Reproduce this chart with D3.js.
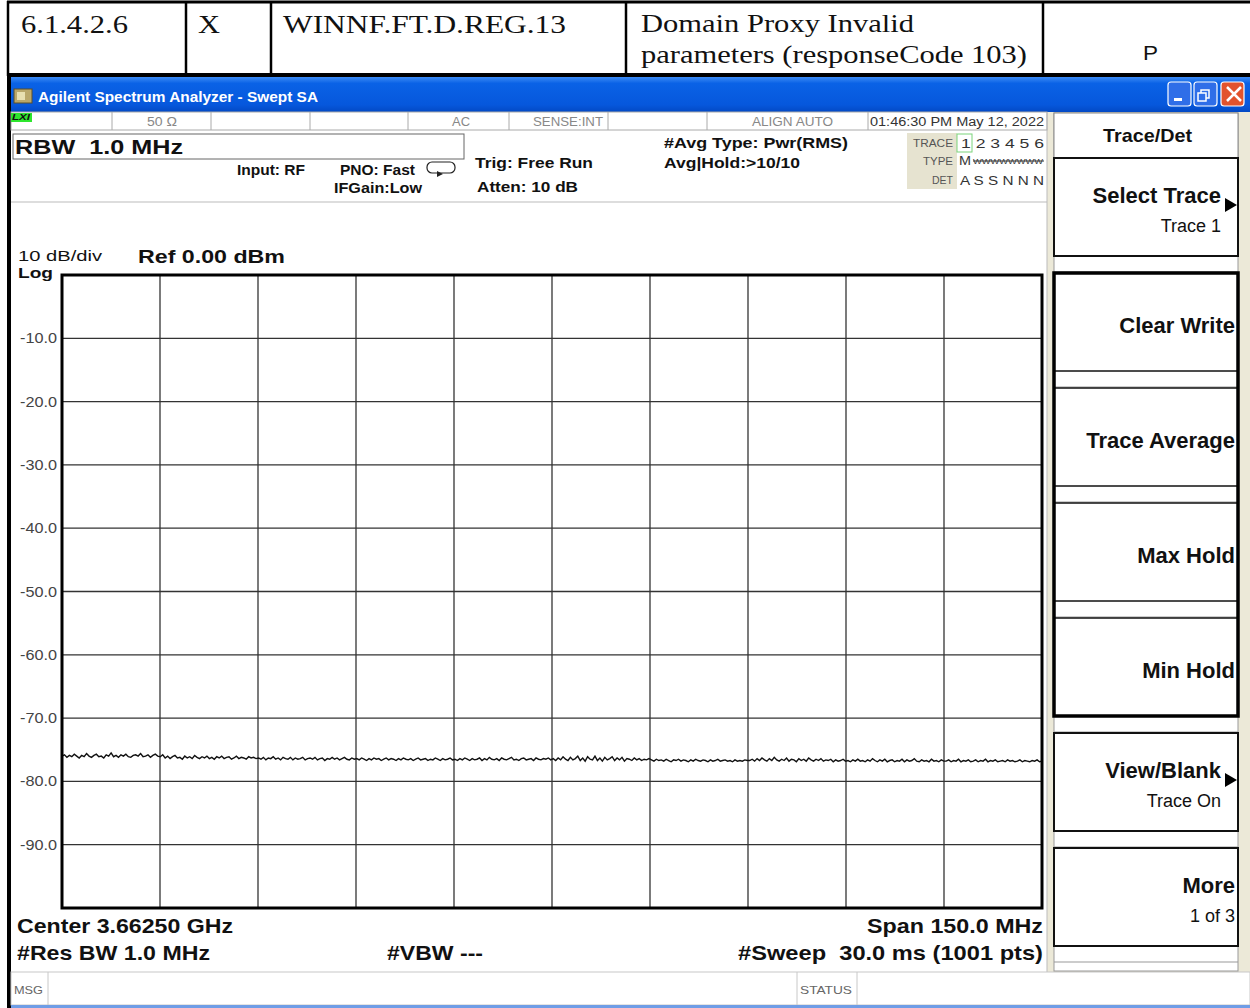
<!DOCTYPE html>
<html>
<head>
<meta charset="utf-8">
<script src="https://cdn.jsdelivr.net/npm/d3@7"></script>
<style>
  body { margin: 0; background: #fff; }
  svg { display: block; font-family: "Liberation Sans", Arial, sans-serif; }
  text { white-space: pre; }
</style>
</head>
<body>
<script>
(function () {

    //table row above the screenshot
    var tableCells = ["6.1.4.2.6", "X", "WINNF.FT.D.REG.13"];
    var tableTitle = ["Domain Proxy Invalid", "parameters (responseCode 103)"];
    var tableResult = "P";

    //y axis: 10 dB/div, ref 0 dBm
    var yTickValues = [-10, -20, -30, -40, -50, -60, -70, -80, -90];
    var yTickLabels = ["-10.0", "-20.0", "-30.0", "-40.0", "-50.0", "-60.0", "-70.0", "-80.0", "-90.0"];
    var xDivisions = [0, 1, 2, 3, 4, 5, 6, 7, 8, 9, 10];

    //trace 1 (dBm), left to right (one row per division)
    var traceDbm = [
        -76.0, -75.8, -76.2, -75.9, -76.1, -75.7, -76.0, -76.3, -75.9, -76.1, -75.6, -76.0, -76.2, -75.9, -75.7, -76.1, -76.0, -76.3, -75.8, -76.0, -75.5, -76.1, -75.9, -76.2, -75.8, -76.0, -75.7, -76.1, -76.2, -75.9, -75.8, -76.0, -75.6, -76.1, -76.0, -75.8, -76.2, -75.9, -75.7, -76.0,
        -76.1, -75.8, -76.3, -76.0, -76.4, -76.1, -75.9, -76.3, -76.2, -76.5, -76.0, -76.3, -76.1, -76.4, -75.9, -76.2, -76.4, -76.1, -76.3, -76.0, -76.4, -76.2, -76.5, -76.1, -76.3, -76.0, -76.4, -76.2, -76.1, -76.5, -76.3, -76.0, -76.4, -76.2, -76.3, -76.5, -76.1, -76.3, -76.2, -76.4,
        -76.3, -76.5, -76.2, -76.6, -76.3, -76.4, -76.1, -76.5, -76.3, -76.6, -76.2, -76.4, -76.5, -76.2, -76.6, -76.3, -76.5, -76.4, -76.2, -76.6, -76.4, -76.3, -76.5, -76.2, -76.6, -76.4, -76.3, -76.7, -76.4, -76.5, -76.2, -76.5, -76.3, -76.6, -76.4, -76.2, -76.5, -76.6, -76.3, -76.5,
        -76.4, -76.6, -76.3, -76.5, -76.7, -76.4, -76.6, -76.3, -76.5, -76.4, -76.7, -76.5, -76.3, -76.6, -76.4, -76.5, -76.7, -76.4, -76.6, -76.3, -76.5, -76.6, -76.4, -76.7, -76.5, -76.3, -76.6, -76.5, -76.4, -76.7, -76.5, -76.6, -76.3, -76.5, -76.7, -76.4, -76.6, -76.5, -76.3, -76.6,
        -76.5, -76.7, -76.4, -76.6, -76.3, -76.5, -76.7, -76.4, -76.6, -76.5, -76.3, -76.7, -76.4, -76.6, -76.2, -76.5, -76.6, -76.4, -76.7, -76.3, -76.5, -76.6, -76.4, -76.2, -76.6, -76.5, -76.7, -76.4, -76.3, -76.6, -76.5, -76.4, -76.7, -76.3, -76.5, -76.6, -76.4, -76.5, -76.3, -76.6,
        -76.4, -76.7, -76.3, -76.6, -76.1, -76.5, -76.7, -76.2, -76.6, -76.4, -76.0, -76.7, -76.3, -76.8, -76.1, -76.5, -76.6, -76.0, -76.7, -76.3, -76.8, -76.2, -76.6, -76.4, -76.1, -76.7, -76.3, -76.6, -76.2, -76.8, -76.4, -76.5, -76.7, -76.3, -76.6, -76.4, -76.7, -76.5, -76.6, -76.4,
        -76.6, -76.8, -76.5, -76.7, -76.6, -76.8, -76.5, -76.7, -76.9, -76.6, -76.7, -76.5, -76.8, -76.6, -76.7, -76.9, -76.6, -76.8, -76.5, -76.7, -76.8, -76.6, -76.7, -76.9, -76.6, -76.8, -76.7, -76.5, -76.8, -76.7, -76.6, -76.8, -76.7, -76.9, -76.6, -76.8, -76.7, -76.8, -76.6, -76.7,
        -76.7, -76.5, -76.8, -76.4, -76.7, -76.3, -76.6, -76.8, -76.4, -76.7, -76.2, -76.6, -76.8, -76.5, -76.7, -76.3, -76.8, -76.5, -76.6, -76.9, -76.4, -76.7, -76.5, -76.8, -76.3, -76.6, -76.8, -76.5, -76.7, -76.4, -76.8, -76.6, -76.7, -76.5, -76.9, -76.6, -76.8, -76.7, -76.5, -76.8,
        -76.7, -76.9, -76.6, -76.8, -76.5, -76.8, -76.7, -76.9, -76.6, -76.8, -76.4, -76.7, -76.9, -76.6, -76.8, -76.5, -76.9, -76.7, -76.6, -76.9, -76.7, -76.8, -76.5, -76.9, -76.6, -76.8, -76.7, -76.4, -76.8, -76.9, -76.6, -76.8, -76.7, -76.9, -76.5, -76.8, -76.7, -76.9, -76.6, -76.8,
        -76.8, -76.6, -76.9, -76.7, -76.8, -76.5, -76.9, -76.7, -76.8, -76.6, -76.9, -76.8, -76.6, -76.9, -76.7, -76.8, -76.5, -76.9, -76.7, -76.8, -76.6, -76.9, -76.8, -76.7, -76.9, -76.6, -76.8, -76.7, -76.9, -76.8, -76.6, -76.9, -76.7, -76.8, -76.9, -76.7, -76.8, -76.6, -76.9, -76.8
    ];

    //softkey menu on the right
    var softLabels = ["Select Trace", "Clear Write", "Trace Average", "Max Hold", "Min Hold", "View/Blank", "More"];
    var softSubs = ["Trace 1", "", "", "", "", "Trace On", "1 of 3"];
    var softArrows = [true, false, false, false, false, true, false];

    var width = 1250, height = 1008;

    var svg = d3.select("body").append("svg")
        .attr("width", width)
        .attr("height", height);

    //text helper: cy is the visual middle of the capitals
    function label(x, cy, str, size, opts) {
        opts = opts || {};
        var t = svg.append("text")
            .attr("x", x)
            .attr("y", cy + size * 0.36)
            .attr("font-size", size)
            .attr("font-weight", opts.bold ? "bold" : "normal")
            .attr("fill", opts.fill || "#111")
            .text(str);
        if (opts.font) t.attr("font-family", opts.font);
        if (opts.italic) t.attr("font-style", "italic");
        if (opts.w) t.attr("textLength", opts.w).attr("lengthAdjust", "spacingAndGlyphs");
        return t;
    }

    //---- document table row
    var serif = "'Liberation Serif', 'Times New Roman', serif";
    svg.append("rect").attr("x", 0).attr("y", 0).attr("width", width).attr("height", 76).attr("fill", "#fff");
    label(21, 24, tableCells[0], 26, { font: serif, w: 107 });
    label(198, 24, tableCells[1], 26, { font: serif, w: 22 });
    label(283, 24, tableCells[2], 26, { font: serif, w: 283 });
    label(641, 23, tableTitle[0], 26, { font: serif, w: 273 });
    label(641, 54, tableTitle[1], 26, { font: serif, w: 386 });
    label(1143, 52, tableResult, 21, { w: 15 });

    svg.append("line").attr("x1", 7).attr("x2", width).attr("y1", 2).attr("y2", 2)
        .attr("stroke", "#000").attr("stroke-width", 3);
    [8, 186, 271, 626, 1043].forEach(function (x) {
        svg.append("line").attr("x1", x).attr("x2", x).attr("y1", 1).attr("y2", 76)
            .attr("stroke", "#000").attr("stroke-width", 2.5);
    });
    svg.append("rect").attr("x", 7).attr("y", 73).attr("width", width - 7).attr("height", 4).attr("fill", "#000");

    //---- window title bar
    var defs = svg.append("defs");
    var grad = defs.append("linearGradient").attr("id", "titleGrad")
        .attr("x1", 0).attr("x2", 0).attr("y1", 0).attr("y2", 1);
    grad.append("stop").attr("offset", "0%").attr("stop-color", "#3d8cf5");
    grad.append("stop").attr("offset", "18%").attr("stop-color", "#0a62e6");
    grad.append("stop").attr("offset", "80%").attr("stop-color", "#0657dc");
    grad.append("stop").attr("offset", "100%").attr("stop-color", "#0349c4");

    svg.append("rect").attr("x", 8).attr("y", 77).attr("width", width - 8).attr("height", 35)
        .attr("fill", "url(#titleGrad)");
    //app icon
    svg.append("rect").attr("x", 14).attr("y", 89).attr("width", 18).attr("height", 14)
        .attr("fill", "#b9a76a").attr("stroke", "#5a4e2a");
    svg.append("rect").attr("x", 17).attr("y", 92).attr("width", 8).attr("height", 8).attr("fill", "#e8dfb0");
    label(38, 97, "Agilent Spectrum Analyzer - Swept SA", 14, { bold: true, fill: "#fff", w: 280 });

    //caption buttons
    [[1168, "#2f6ee8"], [1194, "#2f6ee8"], [1221, "#e2532d"]].forEach(function (b) {
        svg.append("rect").attr("x", b[0]).attr("y", 82).attr("width", 23).attr("height", 24)
            .attr("rx", 3).attr("fill", b[1]).attr("stroke", "#fff").attr("stroke-width", 1.2);
    });
    svg.append("rect").attr("x", 1174).attr("y", 98).attr("width", 8).attr("height", 3).attr("fill", "#fff");
    svg.append("rect").attr("x", 1201).attr("y", 90).attr("width", 8).attr("height", 8)
        .attr("fill", "none").attr("stroke", "#fff").attr("stroke-width", 1.5);
    svg.append("rect").attr("x", 1198).attr("y", 93).attr("width", 8).attr("height", 8)
        .attr("fill", "#2f6ee8").attr("stroke", "#fff").attr("stroke-width", 1.5);
    svg.append("path").attr("d", "M1227,87 L1241,101 M1241,87 L1227,101")
        .attr("stroke", "#fff").attr("stroke-width", 2.5);

    //---- window body
    svg.append("rect").attr("x", 8).attr("y", 112).attr("width", width - 8).attr("height", height - 112)
        .attr("fill", "#ece9d8");
    svg.append("rect").attr("x", 10).attr("y", 112).attr("width", 1037).attr("height", 860)
        .attr("fill", "#fff");
    svg.append("rect").attr("x", 7).attr("y", 76).attr("width", 4).attr("height", height - 76).attr("fill", "#000");

    //status strip
    svg.append("rect").attr("x", 11).attr("y", 112).attr("width", 1036).attr("height", 18)
        .attr("fill", "#fff").attr("stroke", "#aaa");
    [112, 211, 310, 408, 509, 608, 707, 868].forEach(function (x) {
        svg.append("line").attr("x1", x).attr("x2", x).attr("y1", 112).attr("y2", 130)
            .attr("stroke", "#aaa");
    });
    svg.append("rect").attr("x", 11).attr("y", 113).attr("width", 21).attr("height", 9).attr("fill", "#2ee62e");
    label(12, 117, "LXI", 9, { bold: true, italic: true, w: 18 });
    label(147, 122, "50 \u03A9", 12, { fill: "#888", w: 30 });
    label(452, 122, "AC", 12, { fill: "#888", w: 18 });
    label(533, 122, "SENSE:INT", 12, { fill: "#888", w: 70 });
    label(752, 122, "ALIGN AUTO", 12, { fill: "#888", w: 81 });
    label(870, 122, "01:46:30 PM May 12, 2022", 12, { fill: "#333", w: 174 });

    //settings
    svg.append("rect").attr("x", 13).attr("y", 134).attr("width", 451).attr("height", 25)
        .attr("fill", "#fff").attr("stroke", "#666");
    label(15, 146, "RBW  1.0 MHz", 21, { bold: true, w: 168 });
    label(237, 170, "Input: RF", 14, { bold: true, w: 68 });
    label(340, 170, "PNO: Fast", 14, { bold: true, w: 75 });
    label(334, 188, "IFGain:Low", 14, { bold: true, w: 88 });
    svg.append("rect").attr("x", 427).attr("y", 162).attr("width", 28).attr("height", 11)
        .attr("rx", 5).attr("fill", "none").attr("stroke", "#222").attr("stroke-width", 1.2);
    svg.append("path").attr("d", "M437,171 L443,174 L437,177 Z").attr("fill", "#222");
    label(475, 163, "Trig: Free Run", 15, { bold: true, w: 118 });
    label(477, 187, "Atten: 10 dB", 15, { bold: true, w: 101 });
    label(664, 143, "#Avg Type: Pwr(RMS)", 15, { bold: true, w: 184 });
    label(664, 163, "Avg|Hold:>10/10", 15, { bold: true, w: 136 });

    //trace table
    svg.append("rect").attr("x", 907).attr("y", 133).attr("width", 50).attr("height", 56).attr("fill", "#e6e3d0");
    label(913, 143, "TRACE", 11, { fill: "#555", w: 40 });
    label(923, 161, "TYPE", 11, { fill: "#555", w: 30 });
    label(932, 180, "DET", 11, { fill: "#555", w: 21 });
    svg.append("rect").attr("x", 957).attr("y", 134).attr("width", 15).attr("height", 18)
        .attr("fill", "none").attr("stroke", "#7bd37b");
    label(961, 143, "1 2 3 4 5 6", 13, { fill: "#333", w: 83 });
    label(959, 161, "M", 12, { fill: "#333", w: 12 });
    label(973, 161, "WWWWWWWW", 8, { fill: "#333", w: 70 });
    svg.append("line").attr("x1", 973).attr("x2", 1044).attr("y1", 161).attr("y2", 161).attr("stroke", "#333");
    label(960, 180, "A S S N N N", 13, { fill: "#333", w: 84 });

    svg.append("line").attr("x1", 11).attr("x2", 1047).attr("y1", 202).attr("y2", 202).attr("stroke", "#bbb");
    svg.append("line").attr("x1", 1047).attr("x2", 1047).attr("y1", 112).attr("y2", 972).attr("stroke", "#bbb");

    //---- plot
    var x0 = 62, x1 = 1042, yTop = 275, yBot = 908;

    var xDiv = d3.scaleLinear().domain([0, 10]).range([x0, x1]);
    var xTrace = d3.scaleLinear().domain([0, traceDbm.length - 1]).range([x0, x1]);
    var yScale = d3.scaleLinear().domain([-100, 0]).range([yBot, yTop]);

    label(18, 256, "10 dB/div", 14, { w: 84 });
    label(18, 273, "Log", 14, { bold: true, w: 35 });
    label(138, 256, "Ref 0.00 dBm", 19, { bold: true, w: 147 });

    var grid = svg.append("g").attr("class", "grid");
    grid.selectAll(".vgrid")
        .data(xDivisions.slice(1, 10))
        .enter()
        .append("line")
        .attr("class", "vgrid")
        .attr("x1", function (d) { return xDiv(d); })
        .attr("x2", function (d) { return xDiv(d); })
        .attr("y1", yTop).attr("y2", yBot)
        .attr("stroke", "#333").attr("stroke-width", 1.3);
    grid.selectAll(".hgrid")
        .data(yTickValues)
        .enter()
        .append("line")
        .attr("class", "hgrid")
        .attr("x1", x0).attr("x2", x1)
        .attr("y1", function (d) { return yScale(d); })
        .attr("y2", function (d) { return yScale(d); })
        .attr("stroke", "#333").attr("stroke-width", 1.3);

    yTickValues.forEach(function (v, i) {
        label(20, yScale(v), yTickLabels[i], 14, { fill: "#444", w: 37 });
    });

    var line = d3.line()
        .x(function (d, i) { return xTrace(i); })
        .y(function (d) { return yScale(d); });
    svg.append("path")
        .datum(traceDbm)
        .attr("class", "trace")
        .attr("d", line)
        .attr("fill", "none")
        .attr("stroke", "#111")
        .attr("stroke-width", 1.4);

    svg.append("rect").attr("x", x0).attr("y", yTop).attr("width", x1 - x0).attr("height", yBot - yTop)
        .attr("fill", "none").attr("stroke", "#000").attr("stroke-width", 3);

    //bottom annotations
    label(17, 925, "Center 3.66250 GHz", 21, { bold: true, w: 216 });
    label(17, 952, "#Res BW 1.0 MHz", 21, { bold: true, w: 193 });
    label(387, 952, "#VBW ---", 21, { bold: true, w: 96 });
    label(867, 925, "Span 150.0 MHz", 21, { bold: true, w: 176 });
    label(738, 952, "#Sweep  30.0 ms (1001 pts)", 21, { bold: true, w: 305 });

    //message bar
    svg.append("rect").attr("x", 11).attr("y", 972).attr("width", width - 11).attr("height", 33)
        .attr("fill", "#fff").attr("stroke", "#c8c8c8");
    [48, 797, 857].forEach(function (x) {
        svg.append("line").attr("x1", x).attr("x2", x).attr("y1", 972).attr("y2", 1005).attr("stroke", "#c8c8c8");
    });
    label(14, 990, "MSG", 11, { fill: "#666", w: 29 });
    label(800, 990, "STATUS", 11, { fill: "#666", w: 52 });
    svg.append("rect").attr("x", 11).attr("y", 1005).attr("width", width - 11).attr("height", 3).attr("fill", "#6f9de6");

    //---- softkey panel
    var kx = 1054, kw = 184;
    svg.append("rect").attr("x", kx).attr("y", 113).attr("width", kw).attr("height", 858)
        .attr("fill", "#fff").attr("stroke", "#999");
    svg.append("rect").attr("x", kx).attr("y", 113).attr("width", kw).attr("height", 47)
        .attr("fill", "#fff").attr("stroke", "#888");
    label(1103, 135, "Trace/Det", 19, { bold: true, w: 89 });

    var slotTop = d3.scaleLinear().domain([0, 1]).range([158, 273]);
    softLabels.forEach(function (name, i) {
        var top = slotTop(i);
        var grouped = i >= 1 && i <= 4;
        svg.append("rect").attr("x", kx).attr("y", top).attr("width", kw).attr("height", 98)
            .attr("fill", "#fff").attr("stroke", "#111").attr("stroke-width", grouped ? 1.5 : 2);
        svg.append("line").attr("x1", kx).attr("x2", kx + kw).attr("y1", top + 114).attr("y2", top + 114)
            .attr("stroke", "#999");
        var right = softArrows[i] ? 1221 : 1235;
        var main = label(right, top + (softSubs[i] ? 37 : 52), name, 22, { bold: true });
        main.attr("text-anchor", "end");
        if (softSubs[i]) {
            label(right, top + 68, softSubs[i], 18, { fill: "#111" }).attr("text-anchor", "end");
        }
        if (softArrows[i]) {
            svg.append("path")
                .attr("d", "M1225," + (top + 40) + " L1237," + (top + 47) + " L1225," + (top + 54) + " Z")
                .attr("fill", "#000");
        }
    });
    //thick frame around the trace-type group
    svg.append("rect").attr("x", kx).attr("y", slotTop(1)).attr("width", kw).attr("height", slotTop(4) + 98 - slotTop(1))
        .attr("fill", "none").attr("stroke", "#000").attr("stroke-width", 3.5);

})();
</script>
</body>
</html>
